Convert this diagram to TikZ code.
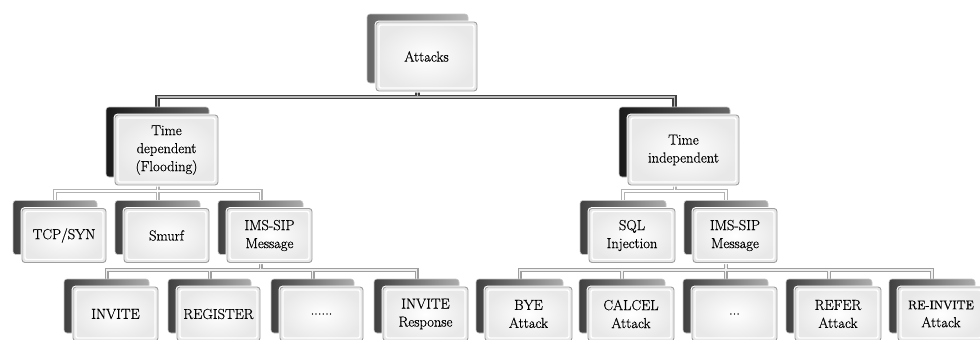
\documentclass[tikz,border=0pt]{standalone}
\usepackage{fontspec}
\setmainfont{Latin Modern Roman}[FakeBold=0.6]
\usetikzlibrary{backgrounds}
\tikzset{
  front/.style={rounded corners=3pt, draw=gray!75, line width=0.9pt,
    preaction={draw=white,line width=3pt},
    inner color=white, outer color=gray!18,
    align=center, inner sep=1pt, text=black,
    font=\fontsize{14.5}{18}\selectfont,
    path picture={\draw[white,line width=1.4pt,rounded corners=2pt]
      ([shift={(3pt,3pt)}]path picture bounding box.south west) rectangle
      ([shift={(-3pt,-3pt)}]path picture bounding box.north east);}},
  back/.style={rounded corners=3pt, draw=gray!45, line width=0.6pt,
    left color=black!80, right color=gray!70},
  backdark/.style={left color=black!90, right color=black!60},
  backmid/.style={left color=black!75, right color=gray!65},
  backlight/.style={left color=black!60, right color=gray!55},
  c1O/.style={draw=black!75,line width=4.5pt},
  c1I/.style={draw=gray!55,line width=1.4pt},
  c2O/.style={draw=gray!60,line width=4pt},
  c2I/.style={draw=white,line width=1.6pt},
  c3O/.style={draw=gray!75,line width=4pt},
  c3I/.style={draw=gray!12,line width=1.6pt},
}
\newcommand\tbx[7]{%
  \node[back,#6,minimum width=#4pt,minimum height=#5pt] (#1B) at (#2-9,#3-8) {};
  \node[front,minimum width=#4pt,minimum height=#5pt] (#1) at (#2,#3) {#7};}
\begin{document}
\begin{tikzpicture}[x=1pt,y=-1pt]
\useasboundingbox (0,0) rectangle (980,340);
\clip (0,0) rectangle (980,340);
% level 1
\tbx{a}{426.5}{56.5}{101}{69}{backlight}{Attacks}
% level 2
\tbx{td}{166.5}{150}{103}{70}{backdark}{Time\\dependent\\(Flooding)}
\tbx{ti}{683.5}{150}{111}{70}{backdark}{Time\\independent}
% level 3
\tbx{tcp}{64}{235.5}{84}{54}{backmid}{TCP/SYN}
\tbx{sm}{166.5}{235.5}{85}{54}{backmid}{Smurf}
\tbx{imsl}{269.5}{235.5}{85}{54}{backmid}{IMS-SIP\\Message}
\tbx{sql}{632}{235.5}{86}{54}{backmid}{SQL\\Injection}
\tbx{imsr}{735}{235.5}{84}{54}{backmid}{IMS-SIP\\Message}
% level 4
\tbx{inv}{115.5}{314}{85}{54}{backmid}{INVITE}
\tbx{reg}{218.5}{314}{83}{54}{backmid}{REGISTER}
\tbx{dotl}{321.5}{314}{83}{54}{backmid}{......}
\tbx{invr}{425.5}{314}{85}{54}{backmid}{INVITE\\Response}
\tbx{bye}{528.5}{314}{87}{54}{backmid}{BYE\\Attack}
\tbx{can}{631}{314}{86}{54}{backmid}{CALCEL\\Attack}
\tbx{dotr}{734.5}{314}{85}{54}{backmid}{...}
\tbx{ref}{838}{314}{86}{54}{backmid}{REFER\\Attack}
\tbx{rei}{941}{314}{86}{54}{backmid}{{\fontsize{12.5}{18}\selectfont RE-INVITE}\\Attack}
% buses
\coordinate (b1) at (0,97);
\coordinate (b2) at (0,191);
\coordinate (b3) at (0,270);
\begin{pgfonlayer}{background}
\foreach \p in {O,I}{
  \draw[c1\p] (aB.south) -- (aB|-b1);
  \draw[c1\p] (tdB.north) -- (tdB|-b1) -- (tiB|-b1) -- (tiB.north);
  \draw[c2\p] (tdB.south) -- (tdB|-b2);
  \draw[c2\p] (tcpB.north) -- (tcpB|-b2) -- (imslB|-b2) -- (imslB.north);
  \draw[c2\p] (smB.north) -- (smB|-b2);
  \draw[c2\p] (tiB.south) -- (tiB|-b2);
  \draw[c2\p] (sqlB.north) -- (sqlB|-b2) -- (imsrB|-b2) -- (imsrB.north);
  \draw[c3\p] (imslB.south) -- (imslB|-b3);
  \draw[c3\p] (invB.north) -- (invB|-b3) -- (invrB|-b3) -- (invrB.north);
  \draw[c3\p] (regB.north) -- (regB|-b3);
  \draw[c3\p] (dotlB.north) -- (dotlB|-b3);
  \draw[c3\p] (imsrB.south) -- (imsrB|-b3);
  \draw[c3\p] (byeB.north) -- (byeB|-b3) -- (reiB|-b3) -- (reiB.north);
  \draw[c3\p] (canB.north) -- (canB|-b3);
  \draw[c3\p] (dotrB.north) -- (dotrB|-b3);
  \draw[c3\p] (refB.north) -- (refB|-b3);
}
\end{pgfonlayer}
\end{tikzpicture}
\end{document}
